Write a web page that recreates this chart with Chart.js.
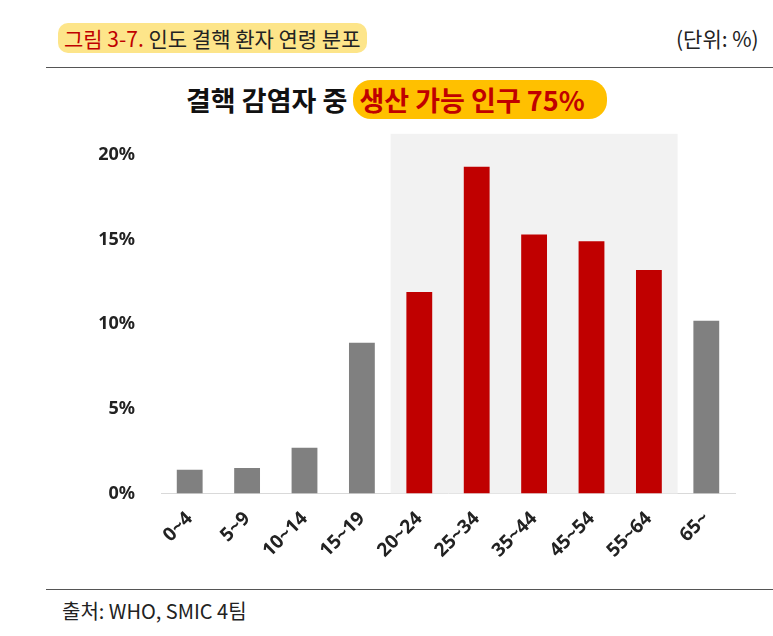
<!DOCTYPE html>
<html><head><meta charset="utf-8">
<script src="https://cdn.jsdelivr.net/npm/chart.js@4"></script>
<style>
body{margin:0;width:773px;height:636px;background:#fff;font-family:"Noto Sans CJK KR","Noto Sans",sans-serif;position:relative;overflow:hidden}
.hdr{position:absolute;top:23px;left:58px;font-size:21px;color:#222}
.hdr span{background:#fde58a;border-radius:10px;padding:0 6px}
.hdr b{font-weight:normal;color:#c00000}
.unit{position:absolute;top:23px;left:676px;font-size:21px;color:#222;white-space:nowrap}
.line{position:absolute;left:46px;right:0;height:1px;background:#555}
.ttl{position:absolute;top:80px;left:186px;font-size:27px;font-weight:bold;color:#111;white-space:nowrap}
.ttl span{color:#c00000;background:#ffc000;border-radius:18px;padding:0 22px 0 6px}
.src{position:absolute;top:596px;left:62px;font-size:20px;color:#222}
#wrap{position:absolute;left:0;top:126px;width:773px;height:460px}
</style></head><body>
<div class="hdr"><span><b>그림 3-7.</b> 인도 결핵 환자 연령 분포</span></div>
<div class="unit">(단위: %)</div>
<div class="line" style="top:67px"></div>
<div class="ttl">결핵 감염자 중 <span>생산 가능 인구 75%</span></div>
<div id="wrap"><canvas id="c"></canvas></div>
<div class="line" style="top:589px"></div>
<div class="src">출처: WHO, SMIC 4팀</div>
<script>
let categories = ['0~4','5~9','10~14','15~19','20~24','25~34','35~44','45~54','55~64','65~']
let shares = [1.4, 1.5, 2.7, 8.9, 11.9, 19.3, 15.3, 14.9, 13.2, 10.2]
let working = [false, false, false, false, true, true, true, true, true, false]

let shade = {
    id: 'shade',
    beforeDatasetsDraw(chart) {
        let x = chart.scales.x, ctx = chart.ctx
        let step = x.getPixelForValue(1) - x.getPixelForValue(0)
        let l = x.getPixelForValue(4) - step / 2, r = x.getPixelForValue(8) + step / 2
        ctx.save()
        ctx.fillStyle = '#f2f2f2'
        ctx.fillRect(l, chart.chartArea.top - 21, r - l, chart.chartArea.bottom - chart.chartArea.top + 21)
        ctx.restore()
    }
}

new Chart(document.getElementById('c'), {
    type: 'bar',
    data: {
        labels: categories,
        datasets: [{
            data: shares,
            backgroundColor: working.map(w => w ? '#c00000' : '#808080'),
            barPercentage: 0.45,
            categoryPercentage: 1
        }]
    },
    options: {
        responsive: true, maintainAspectRatio: false, animation: false,
        layout: {padding: {left: 0, right: 38, top: 20, bottom: 18}},
        plugins: {legend: {display: false}, tooltip: {enabled: false}},
        scales: {
            x: {
                grid: {display: false},
                border: {color: '#d9d9d9'},
                ticks: {color: '#222', padding: 6, font: {size: 19, weight: 'bold', family: 'Noto Sans'}, maxRotation: 45, minRotation: 45}
            },
            y: {
                min: 0, max: 20,
                afterFit(s) { s.width = 161 },
                grid: {display: false},
                border: {display: false},
                ticks: {stepSize: 5, padding: 18, color: '#222', font: {size: 18, weight: 'bold', family: 'Noto Sans'}, callback: v => v + '%'}
            }
        }
    },
    plugins: [shade]
})
</script>
</body></html>
